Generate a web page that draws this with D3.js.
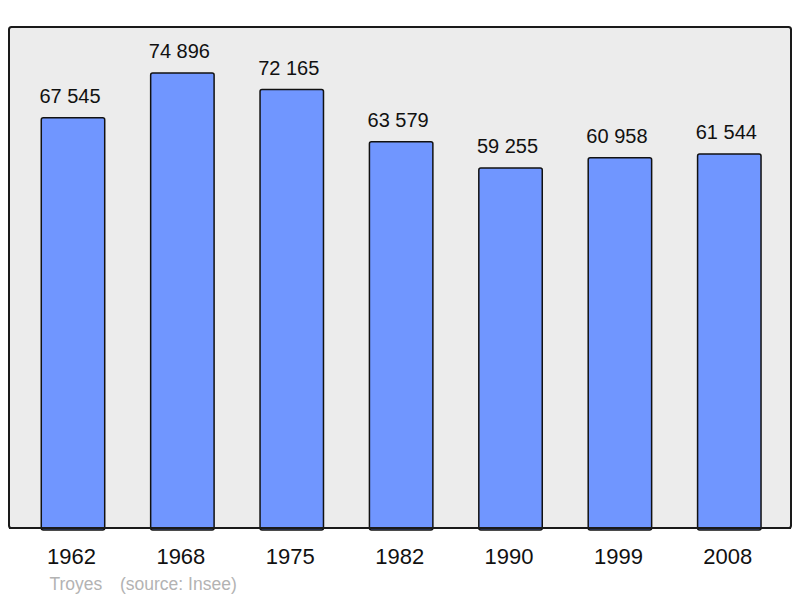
<!DOCTYPE html>
<html><head><meta charset="utf-8">
<script src="https://cdn.jsdelivr.net/npm/d3@7"></script>
<style>html,body{margin:0;padding:0;background:#fff;}svg{display:block;}</style>
</head><body>
<svg id="c" width="800" height="598"></svg>
<script>
const years = ["1962","1968","1975","1982","1990","1999","2008"];
const population = [67545,74896,72165,63579,59255,60958,61544];
const valueLabels = ["67 545","74 896","72 165","63 579","59 255","60 958","61 544"];
const town = "Troyes";
const source = "(source: Insee)";

const svg = d3.select("#c");
const panel = {x0: 9, x1: 791, y0: 27, y1: 528};
const font = "Liberation Sans, Arial, sans-serif";

svg.append("rect").attr("x", panel.x0).attr("y", panel.y0)
  .attr("width", panel.x1 - panel.x0).attr("height", panel.y1 - panel.y0)
  .attr("rx", 2.5).attr("fill", "#ececec").attr("stroke", "#1a1a1a").attr("stroke-width", 2);

const x = d3.scaleBand().domain(years).range([18.3, 784]).paddingInner(0.42).paddingOuter(0.21);
const y = d3.scaleLinear().domain([0, 82470]).range([panel.y1, panel.y0]);

const data = years.map((yr, i) => ({yr, v: population[i], lab: valueLabels[i]}));

svg.selectAll("rect.bar").data(data).enter().append("rect").attr("class", "bar")
  .attr("x", d => x(d.yr)).attr("y", d => y(d.v))
  .attr("width", x.bandwidth()).attr("height", d => y(0) - y(d.v) + 2)
  .attr("rx", 2).attr("fill", "#7096ff").attr("stroke", "#111").attr("stroke-width", 1.5);

svg.append("line").attr("x1", panel.x0).attr("x2", panel.x1).attr("y1", panel.y1).attr("y2", panel.y1)
  .attr("stroke", "#1a1a1a").attr("stroke-width", 2);

svg.selectAll("text.val").data(data).enter().append("text").attr("class", "val")
  .attr("x", d => x(d.yr) + x.bandwidth() / 2 - 3).attr("y", d => y(d.v) - 15)
  .attr("text-anchor", "middle").attr("font-family", font)
  .attr("font-size", 20).attr("fill", "#111").text(d => d.lab);

svg.selectAll("text.yr").data(data).enter().append("text").attr("class", "yr")
  .attr("x", d => x(d.yr) + x.bandwidth() / 2 - 1.5).attr("y", 564)
  .attr("text-anchor", "middle").attr("font-family", font)
  .attr("font-size", 22).attr("fill", "#111").text(d => d.yr);

svg.append("text").attr("x", 49.5).attr("y", 590).attr("font-family", font)
  .attr("font-size", 17.5).attr("fill", "#b3b3b3").text(town);
svg.append("text").attr("x", 120).attr("y", 590).attr("font-family", font)
  .attr("font-size", 17.5).attr("fill", "#b3b3b3").text(source);
</script>
</body></html>
